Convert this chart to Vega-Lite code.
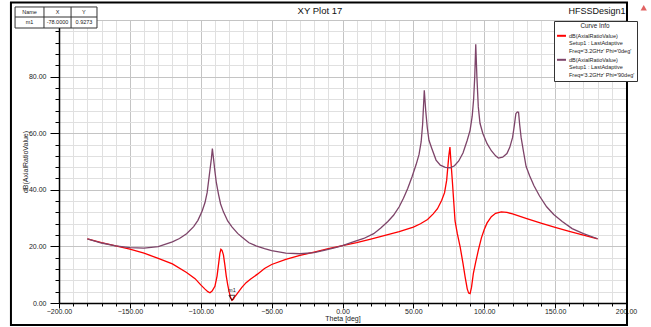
{
  "$schema": "https://vega.github.io/schema/vega-lite/v6.json",
  "width": 567,
  "height": 283,
  "autosize": {"type": "none"},
  "padding": {"left": 59, "top": 20, "right": 25, "bottom": 24},
  "background": "white",
  "config": {
    "font": "Liberation Sans",
    "view": {"stroke": "#000", "strokeWidth": 1},
    "axis": {"labelOverlap": false, "labelBound": false}
  },
  "resolve": {"axis": {"x": "independent", "y": "independent"}},
  "datasets": {
    "curves": [
      {"series": "phi0", "theta": -180, "v": 22.7},
      {"series": "phi0", "theta": -170, "v": 21.3},
      {"series": "phi0", "theta": -160, "v": 20.2},
      {"series": "phi0", "theta": -150, "v": 19.0},
      {"series": "phi0", "theta": -140, "v": 17.6},
      {"series": "phi0", "theta": -130, "v": 15.8},
      {"series": "phi0", "theta": -120, "v": 13.8},
      {"series": "phi0", "theta": -110, "v": 10.8},
      {"series": "phi0", "theta": -104, "v": 8.6},
      {"series": "phi0", "theta": -100, "v": 6.4},
      {"series": "phi0", "theta": -97, "v": 4.9},
      {"series": "phi0", "theta": -95, "v": 4.0},
      {"series": "phi0", "theta": -93.5, "v": 3.6},
      {"series": "phi0", "theta": -92, "v": 4.2},
      {"series": "phi0", "theta": -90, "v": 5.9},
      {"series": "phi0", "theta": -88.5, "v": 9.5},
      {"series": "phi0", "theta": -87.5, "v": 13.5},
      {"series": "phi0", "theta": -86.5, "v": 17.5},
      {"series": "phi0", "theta": -85.8, "v": 19.0},
      {"series": "phi0", "theta": -85, "v": 18.6},
      {"series": "phi0", "theta": -84, "v": 17.0},
      {"series": "phi0", "theta": -83, "v": 13.5},
      {"series": "phi0", "theta": -82, "v": 9.5},
      {"series": "phi0", "theta": -81, "v": 6.5},
      {"series": "phi0", "theta": -80, "v": 4.0},
      {"series": "phi0", "theta": -79, "v": 2.0},
      {"series": "phi0", "theta": -78, "v": 0.93},
      {"series": "phi0", "theta": -77, "v": 1.3},
      {"series": "phi0", "theta": -76, "v": 2.2},
      {"series": "phi0", "theta": -74, "v": 3.5},
      {"series": "phi0", "theta": -71, "v": 5.5},
      {"series": "phi0", "theta": -68, "v": 7.2},
      {"series": "phi0", "theta": -65, "v": 8.4},
      {"series": "phi0", "theta": -60, "v": 10.2},
      {"series": "phi0", "theta": -55, "v": 12.2},
      {"series": "phi0", "theta": -50, "v": 13.6},
      {"series": "phi0", "theta": -40, "v": 15.4},
      {"series": "phi0", "theta": -30, "v": 16.8},
      {"series": "phi0", "theta": -20, "v": 18.0},
      {"series": "phi0", "theta": -10, "v": 19.2},
      {"series": "phi0", "theta": 0, "v": 20.3},
      {"series": "phi0", "theta": 10, "v": 21.3},
      {"series": "phi0", "theta": 20, "v": 22.6},
      {"series": "phi0", "theta": 30, "v": 23.9},
      {"series": "phi0", "theta": 40, "v": 25.2},
      {"series": "phi0", "theta": 50, "v": 26.8},
      {"series": "phi0", "theta": 55, "v": 28.0},
      {"series": "phi0", "theta": 60, "v": 29.5},
      {"series": "phi0", "theta": 64, "v": 31.5},
      {"series": "phi0", "theta": 67, "v": 33.3},
      {"series": "phi0", "theta": 70, "v": 36.3},
      {"series": "phi0", "theta": 72, "v": 39.0},
      {"series": "phi0", "theta": 73.5, "v": 43.4},
      {"series": "phi0", "theta": 75, "v": 52.0},
      {"series": "phi0", "theta": 75.8, "v": 55.1},
      {"series": "phi0", "theta": 76.5, "v": 50.0},
      {"series": "phi0", "theta": 77.5, "v": 43.0},
      {"series": "phi0", "theta": 79.4, "v": 29.0},
      {"series": "phi0", "theta": 81, "v": 24.5},
      {"series": "phi0", "theta": 83, "v": 19.8},
      {"series": "phi0", "theta": 85, "v": 14.0},
      {"series": "phi0", "theta": 86.5, "v": 9.2},
      {"series": "phi0", "theta": 88, "v": 5.0},
      {"series": "phi0", "theta": 89, "v": 3.5},
      {"series": "phi0", "theta": 90, "v": 3.3},
      {"series": "phi0", "theta": 91, "v": 5.5},
      {"series": "phi0", "theta": 92.3, "v": 10.4},
      {"series": "phi0", "theta": 94, "v": 14.5},
      {"series": "phi0", "theta": 96, "v": 19.0},
      {"series": "phi0", "theta": 98, "v": 23.0},
      {"series": "phi0", "theta": 100, "v": 26.0},
      {"series": "phi0", "theta": 102, "v": 28.3},
      {"series": "phi0", "theta": 105, "v": 30.5},
      {"series": "phi0", "theta": 108, "v": 31.7},
      {"series": "phi0", "theta": 112, "v": 32.2},
      {"series": "phi0", "theta": 116, "v": 32.0},
      {"series": "phi0", "theta": 120, "v": 31.5},
      {"series": "phi0", "theta": 130, "v": 29.8},
      {"series": "phi0", "theta": 140, "v": 28.2},
      {"series": "phi0", "theta": 150, "v": 26.7},
      {"series": "phi0", "theta": 160, "v": 25.3},
      {"series": "phi0", "theta": 170, "v": 24.0},
      {"series": "phi0", "theta": 180, "v": 22.7},
      {"series": "phi90", "theta": -180, "v": 22.7},
      {"series": "phi90", "theta": -170, "v": 21.2},
      {"series": "phi90", "theta": -160, "v": 20.2},
      {"series": "phi90", "theta": -150, "v": 19.6},
      {"series": "phi90", "theta": -140, "v": 19.4},
      {"series": "phi90", "theta": -130, "v": 19.9},
      {"series": "phi90", "theta": -120, "v": 21.6},
      {"series": "phi90", "theta": -115, "v": 22.8},
      {"series": "phi90", "theta": -110, "v": 24.5},
      {"series": "phi90", "theta": -105, "v": 27.0},
      {"series": "phi90", "theta": -102, "v": 29.2},
      {"series": "phi90", "theta": -99, "v": 32.5},
      {"series": "phi90", "theta": -97, "v": 35.5},
      {"series": "phi90", "theta": -95.5, "v": 39.0},
      {"series": "phi90", "theta": -94.5, "v": 43.0},
      {"series": "phi90", "theta": -93.5, "v": 47.0},
      {"series": "phi90", "theta": -92.5, "v": 51.0},
      {"series": "phi90", "theta": -91.8, "v": 54.6},
      {"series": "phi90", "theta": -91, "v": 51.0},
      {"series": "phi90", "theta": -90, "v": 46.5},
      {"series": "phi90", "theta": -89, "v": 42.5},
      {"series": "phi90", "theta": -87.5, "v": 38.5},
      {"series": "phi90", "theta": -86, "v": 35.0},
      {"series": "phi90", "theta": -84, "v": 32.2},
      {"series": "phi90", "theta": -81, "v": 29.0},
      {"series": "phi90", "theta": -78, "v": 26.9},
      {"series": "phi90", "theta": -74, "v": 24.6},
      {"series": "phi90", "theta": -71, "v": 23.3},
      {"series": "phi90", "theta": -66, "v": 21.3},
      {"series": "phi90", "theta": -61, "v": 20.2},
      {"series": "phi90", "theta": -55, "v": 19.2},
      {"series": "phi90", "theta": -50, "v": 18.5},
      {"series": "phi90", "theta": -40, "v": 17.6},
      {"series": "phi90", "theta": -30, "v": 17.4},
      {"series": "phi90", "theta": -20, "v": 17.8},
      {"series": "phi90", "theta": -13, "v": 18.6},
      {"series": "phi90", "theta": -5, "v": 19.6},
      {"series": "phi90", "theta": 0, "v": 20.3},
      {"series": "phi90", "theta": 7, "v": 21.5},
      {"series": "phi90", "theta": 15, "v": 22.8},
      {"series": "phi90", "theta": 22, "v": 24.5},
      {"series": "phi90", "theta": 27, "v": 26.5},
      {"series": "phi90", "theta": 32, "v": 28.8},
      {"series": "phi90", "theta": 36, "v": 31.0},
      {"series": "phi90", "theta": 40, "v": 34.0},
      {"series": "phi90", "theta": 43, "v": 37.0},
      {"series": "phi90", "theta": 46, "v": 40.5},
      {"series": "phi90", "theta": 49, "v": 44.5},
      {"series": "phi90", "theta": 52, "v": 49.0},
      {"series": "phi90", "theta": 54, "v": 52.5},
      {"series": "phi90", "theta": 55.5, "v": 57.0},
      {"series": "phi90", "theta": 56.5, "v": 63.0},
      {"series": "phi90", "theta": 57.7, "v": 75.2},
      {"series": "phi90", "theta": 58.7, "v": 68.0},
      {"series": "phi90", "theta": 59.8, "v": 62.0},
      {"series": "phi90", "theta": 61, "v": 57.5},
      {"series": "phi90", "theta": 63, "v": 54.6},
      {"series": "phi90", "theta": 66, "v": 50.5},
      {"series": "phi90", "theta": 69, "v": 48.7},
      {"series": "phi90", "theta": 72.5, "v": 47.9},
      {"series": "phi90", "theta": 76, "v": 47.8},
      {"series": "phi90", "theta": 79, "v": 48.5},
      {"series": "phi90", "theta": 82, "v": 50.2},
      {"series": "phi90", "theta": 85, "v": 53.0},
      {"series": "phi90", "theta": 88, "v": 57.5},
      {"series": "phi90", "theta": 90, "v": 61.0},
      {"series": "phi90", "theta": 91.5, "v": 66.0},
      {"series": "phi90", "theta": 92.5, "v": 72.0},
      {"series": "phi90", "theta": 93.3, "v": 80.0},
      {"series": "phi90", "theta": 94, "v": 91.4},
      {"series": "phi90", "theta": 94.8, "v": 80.0},
      {"series": "phi90", "theta": 95.8, "v": 69.3},
      {"series": "phi90", "theta": 97, "v": 63.5},
      {"series": "phi90", "theta": 99, "v": 59.9},
      {"series": "phi90", "theta": 102, "v": 56.3},
      {"series": "phi90", "theta": 105, "v": 53.8},
      {"series": "phi90", "theta": 108, "v": 52.0},
      {"series": "phi90", "theta": 110, "v": 51.2},
      {"series": "phi90", "theta": 113, "v": 51.5},
      {"series": "phi90", "theta": 116, "v": 52.8},
      {"series": "phi90", "theta": 118, "v": 55.0},
      {"series": "phi90", "theta": 120, "v": 58.5},
      {"series": "phi90", "theta": 121.3, "v": 63.0},
      {"series": "phi90", "theta": 122.3, "v": 66.9},
      {"series": "phi90", "theta": 123.3, "v": 67.5},
      {"series": "phi90", "theta": 124.2, "v": 67.4},
      {"series": "phi90", "theta": 125, "v": 63.0},
      {"series": "phi90", "theta": 126, "v": 58.5},
      {"series": "phi90", "theta": 127.5, "v": 54.0},
      {"series": "phi90", "theta": 129.5, "v": 48.3},
      {"series": "phi90", "theta": 132, "v": 45.0},
      {"series": "phi90", "theta": 135, "v": 41.5},
      {"series": "phi90", "theta": 139, "v": 37.8},
      {"series": "phi90", "theta": 144, "v": 34.0},
      {"series": "phi90", "theta": 149, "v": 31.3},
      {"series": "phi90", "theta": 155, "v": 28.8},
      {"series": "phi90", "theta": 162, "v": 26.3},
      {"series": "phi90", "theta": 170, "v": 24.5},
      {"series": "phi90", "theta": 180, "v": 22.7}
    ],
    "marker": [{"name": "m1", "theta": -78, "v": 0.9273}]
  },
  "layer": [
    {
      "data": {"name": "curves"},
      "mark": {"type": "line", "strokeWidth": 1.3, "interpolate": "linear"},
      "encoding": {
        "x": {
          "field": "theta", "type": "quantitative",
          "scale": {"domain": [-200, 200], "nice": false, "zero": false},
          "axis": {
            "values": [-200,-190,-180,-170,-160,-150,-140,-130,-120,-110,-100,-90,-80,-70,-60,-50,-40,-30,-20,-10,0,10,20,30,40,50,60,70,80,90,100,110,120,130,140,150,160,170,180,190,200],
            "labelExpr": "datum.value % 50 == 0 ? format(datum.value, '.2f') : ''",
            "labelOverlap": false, "labelFlush": false, "labelBound": false,
            "grid": true,
            "gridColor": {"condition": {"test": "datum.value % 50 == 0", "value": "#c4c4c4"}, "value": "#e0e0e0"},
            "gridWidth": 1,
            "tickSize": {"condition": {"test": "datum.value % 50 == 0", "value": 5}, "value": 3},
            "tickColor": "#000",
            "domainColor": "#000", "domainWidth": 1.5,
            "labelFontSize": 7, "labelColor": "#222", "labelPadding": -1,
            "title": "Theta [deg]", "titleFontSize": 7, "titleFontWeight": "normal", "titleColor": "#222", "titlePadding": 0
          }
        },
        "y": {
          "field": "v", "type": "quantitative",
          "scale": {"domain": [0, 100], "nice": false, "zero": false},
          "axis": {
            "values": [0,4,8,12,16,20,24,28,32,36,40,44,48,52,56,60,64,68,72,76,80,84,88,92,96,100],
            "labelExpr": "datum.value % 20 == 0 && datum.value < 100 ? format(datum.value, '.2f') : ''",
            "labelOverlap": false, "labelFlush": false, "labelBound": false,
            "grid": true,
            "gridColor": {"condition": {"test": "datum.value % 20 == 0", "value": "#c4c4c4"}, "value": "#e0e0e0"},
            "gridWidth": 1,
            "tickSize": {"condition": {"test": "datum.value % 20 == 0", "value": 9}, "value": 4},
            "tickColor": "#000",
            "domainColor": "#000", "domainWidth": 1.5,
            "labelFontSize": 7, "labelColor": "#222", "labelPadding": 4,
            "title": "dB(AxialRatioValue)", "titleFontSize": 7, "titleFontWeight": "normal", "titleColor": "#222", "titlePadding": 0
          }
        },
        "color": {
          "field": "series", "type": "nominal",
          "scale": {"domain": ["phi0", "phi90"], "range": ["#ff0000", "#7d4469"]},
          "legend": {
            "orient": "none", "legendX": 495, "legendY": 1,
            "title": "Curve Info", "titleAnchor": "middle", "titleFontSize": 6.3, "titleFontWeight": "normal", "titleColor": "#222", "titlePadding": 1,
            "symbolType": "stroke", "symbolStrokeWidth": 2, "symbolSize": 80,
            "labelFontSize": 5.5, "labelColor": "#222", "labelLimit": 200, "labelOffset": 2,
            "labelExpr": "datum.label == 'phi0' ? ['dB(AxialRatioValue)', 'Setup1 : LastAdaptive', \"Freq='3.2GHz' Phi='0deg'\"] : ['dB(AxialRatioValue)', 'Setup1 : LastAdaptive', \"Freq='3.2GHz' Phi='90deg'\"]",
            "strokeColor": "#333", "fillColor": "white", "padding": 2, "rowPadding": 0
          }
        }
      }
    },
    {
      "data": {"values": [{}]},
      "mark": {"type": "rect", "filled": false, "stroke": "#000", "strokeWidth": 2, "clip": false},
      "encoding": {
        "x": {"datum": -233.9, "axis": null}, "x2": {"datum": 200.7},
        "y": {"datum": 106.2, "axis": null}, "y2": {"datum": -7.77}
      }
    },
    {
      "data": {"values": [{}]},
      "mark": {"type": "text", "fontSize": 9.5, "color": "#111", "align": "center", "baseline": "middle", "clip": false},
      "encoding": {"x": {"datum": -15.9, "axis": null}, "y": {"datum": 103.2, "axis": null}, "text": {"value": "XY Plot 17"}}
    },
    {
      "data": {"values": [{}]},
      "mark": {"type": "text", "fontSize": 9, "color": "#111", "align": "center", "baseline": "middle", "clip": false},
      "encoding": {"x": {"datum": 179.5, "axis": null}, "y": {"datum": 103.2, "axis": null}, "text": {"value": "HFSSDesign1"}}
    },
    {
      "data": {"values": [{}]},
      "mark": {"type": "point", "shape": "triangle-up", "filled": true, "color": "#d42020", "size": 40, "clip": false},
      "encoding": {"x": {"datum": 212.5, "axis": null}, "y": {"datum": 104.3, "axis": null}}
    },
    {
      "data": {"name": "marker"},
      "mark": {"type": "point", "shape": "M-1,-1.7L1,-1.7L0,0Z", "filled": false, "stroke": "#000", "strokeWidth": 1, "size": 36},
      "encoding": {"x": {"field": "theta", "type": "quantitative", "axis": null}, "y": {"field": "v", "type": "quantitative", "axis": null}}
    },
    {
      "data": {"name": "marker"},
      "mark": {"type": "text", "fontSize": 5.5, "color": "#222", "dy": -10, "align": "center"},
      "encoding": {"x": {"field": "theta", "type": "quantitative", "axis": null}, "y": {"field": "v", "type": "quantitative", "axis": null}, "text": {"field": "name"}}
    },
    {
      "data": {"values": [{}]},
      "mark": {"type": "rect", "fill": "white", "stroke": "#333", "strokeWidth": 1, "clip": false},
      "encoding": {"x": {"datum": -231.0, "axis": null}, "x2": {"datum": -173.2}, "y": {"datum": 104.6, "axis": null}, "y2": {"datum": 97.17}}
    },
    {
      "data": {"values": [{}]},
      "mark": {"type": "rule", "stroke": "#333", "strokeWidth": 1, "clip": false},
      "encoding": {"x": {"datum": -231.0, "axis": null}, "x2": {"datum": -173.2}, "y": {"datum": 101.06, "axis": null}}
    },
    {
      "data": {"values": [{}]},
      "mark": {"type": "rule", "stroke": "#333", "strokeWidth": 1, "clip": false},
      "encoding": {"x": {"datum": -210.6, "axis": null}, "y": {"datum": 104.6, "axis": null}, "y2": {"datum": 97.17}}
    },
    {
      "data": {"values": [{}]},
      "mark": {"type": "rule", "stroke": "#333", "strokeWidth": 1, "clip": false},
      "encoding": {"x": {"datum": -191.5, "axis": null}, "y": {"datum": 104.6, "axis": null}, "y2": {"datum": 97.17}}
    },
    {
      "data": {"values": [{}]},
      "mark": {"type": "text", "fontSize": 5.5, "color": "#222", "align": "center", "baseline": "middle", "clip": false},
      "encoding": {"x": {"datum": -220.8, "axis": null}, "y": {"datum": 102.83, "axis": null}, "text": {"value": "Name"}}
    },
    {
      "data": {"values": [{}]},
      "mark": {"type": "text", "fontSize": 5.5, "color": "#222", "align": "center", "baseline": "middle", "clip": false},
      "encoding": {"x": {"datum": -201.06, "axis": null}, "y": {"datum": 102.83, "axis": null}, "text": {"value": "X"}}
    },
    {
      "data": {"values": [{}]},
      "mark": {"type": "text", "fontSize": 5.5, "color": "#222", "align": "center", "baseline": "middle", "clip": false},
      "encoding": {"x": {"datum": -182.4, "axis": null}, "y": {"datum": 102.83, "axis": null}, "text": {"value": "Y"}}
    },
    {
      "data": {"values": [{}]},
      "mark": {"type": "text", "fontSize": 5.5, "color": "#222", "align": "center", "baseline": "middle", "clip": false},
      "encoding": {"x": {"datum": -220.8, "axis": null}, "y": {"datum": 99.12, "axis": null}, "text": {"value": "m1"}}
    },
    {
      "data": {"values": [{}]},
      "mark": {"type": "text", "fontSize": 5.5, "color": "#222", "align": "center", "baseline": "middle", "clip": false},
      "encoding": {"x": {"datum": -201.06, "axis": null}, "y": {"datum": 99.12, "axis": null}, "text": {"value": "-78.0000"}}
    },
    {
      "data": {"values": [{}]},
      "mark": {"type": "text", "fontSize": 5.5, "color": "#222", "align": "center", "baseline": "middle", "clip": false},
      "encoding": {"x": {"datum": -182.4, "axis": null}, "y": {"datum": 99.12, "axis": null}, "text": {"value": "0.9273"}}
    }
  ]
}
